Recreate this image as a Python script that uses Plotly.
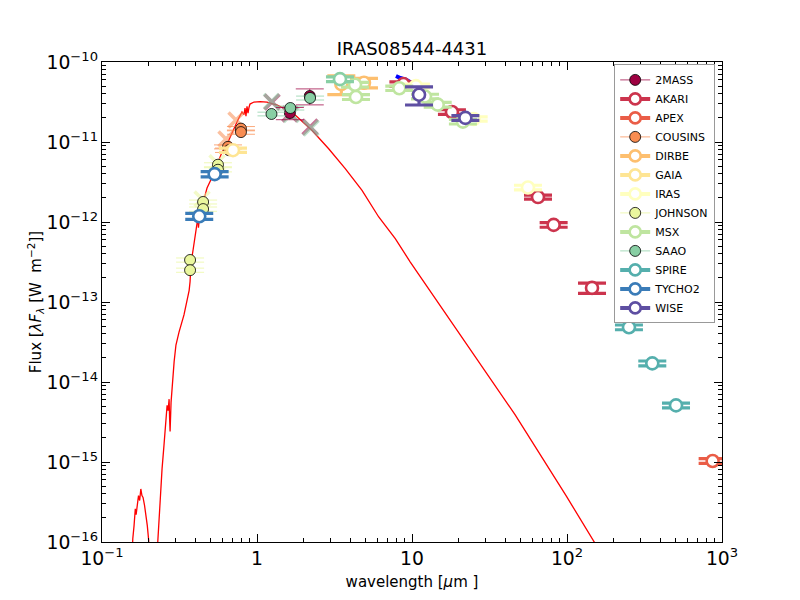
import plotly.graph_objects as go

# ---- model SED ----
model_wave = [0.155, 0.158, 0.161, 0.164, 0.166, 0.169, 0.172, 0.175, 0.178, 0.181,
              0.184, 0.188, 0.192, 0.196, 0.200, 0.203, 0.215, 0.225, 0.229, 0.233,
              0.238, 0.244, 0.251, 0.255, 0.259, 0.263, 0.267, 0.271, 0.273, 0.275,
              0.279, 0.287, 0.292, 0.300, 0.314, 0.338, 0.353, 0.365, 0.370, 0.375,
              0.387, 0.398, 0.410, 0.416, 0.419, 0.422, 0.429, 0.442, 0.476, 0.512,
              0.552, 0.595, 0.650, 0.711, 0.754, 0.800, 0.824, 0.837, 0.849, 0.862,
              0.875, 0.888, 0.901, 0.956, 1.046, 1.16, 1.35, 1.55, 1.77, 2.26,
              2.90, 3.71, 4.76, 6.10, 7.80, 9.75, 21.6, 46.2, 98.6, 149.0, 226.0]
model_flux = [4e-17, 1.1e-16, 1.6e-16, 2.6e-16, 2.2e-16, 3.2e-16, 3.8e-16, 3.3e-16, 4.6e-16, 3.8e-16,
              3.6e-16, 2.9e-16, 2.2e-16, 1.6e-16, 1.05e-16, 5e-17, 2e-17, 5e-17, 1.0e-16, 1.8e-16,
              4e-16, 8.2e-16, 1.6e-15, 2.2e-15, 3.4e-15, 5.1e-15, 4.4e-15, 6.1e-15, 3.5e-15, 2.4e-15,
              5.6e-15, 1.33e-14, 1.8e-14, 2.9e-14, 4.2e-14, 6.9e-14, 1.0e-13, 1.4e-13, 1.8e-13, 3.0e-13,
              4.5e-13, 6.5e-13, 9.4e-13, 1.15e-12, 8.5e-13, 1.05e-12, 1.33e-12, 1.55e-12, 2.66e-12, 3.6e-12,
              5.3e-12, 7.5e-12, 1.0e-11, 1.5e-11, 1.9e-11, 2.37e-11, 2.2e-11, 2.65e-11, 2.1e-11, 2.8e-11,
              2.3e-11, 2.7e-11, 2.98e-11, 3.16e-11, 3.2e-11, 3.16e-11, 2.9e-11, 2.55e-11, 2.16e-11, 1.40e-11,
              8.24e-12, 4.64e-12, 2.49e-12, 1.155e-12, 6.18e-13, 3.16e-13, 3.4e-14, 3.9e-15, 3.8e-16, 1.0e-16,
              2.7e-17]

# ---- mid-IR spectrum (blue) ----
spec_wave = [7.88, 8.12, 8.41, 8.71, 9.06, 9.53, 10.0, 10.5, 11.0, 11.6, 12.1]
spec_flux = [6.68e-11, 6.44e-11, 6.31e-11, 6.18e-11, 6.08e-11, 5.74e-11, 5.42e-11, 5.11e-11,
             4.87e-11, 4.73e-11, 4.56e-11]

# ---- photometry ----
twomass_wave = [1.63, 2.19]
twomass_flux = [2.3e-11, 3.76e-11]
twomass_err = [0.4e-11, 0.85e-11]
twomass_syn_wave = [1.25, 1.63, 2.2]
twomass_syn_flux = [3.16e-11, 2.24e-11, 1.54e-11]

akari_wave = [8.8, 18.1, 65.0, 82.0, 145.0]
akari_flux = [5.3e-11, 2.37e-11, 2.05e-12, 9.2e-13, 1.5e-13]
akari_err = [0.35e-11, 0.16e-11, 0.12e-12, 0.6e-13, 0.22e-13]

apex_wave = [870.0]
apex_flux = [1.03e-15]
apex_err = [0.07e-15]

cousins_wave = [0.65, 0.66, 0.788, 0.788]
cousins_flux = [8.7e-12, 7.9e-12, 1.47e-11, 1.33e-11]
cousins_err = [0.5e-12, 0.5e-12, 0.9e-12, 0.8e-12]
cousins_syn_wave = [0.631, 0.732]
cousins_syn_flux = [1.09e-11, 1.88e-11]

dirbe_wave = [3.5, 4.9]
dirbe_flux = [5.3e-11, 5.5e-11]
dirbe_err = [1.4e-11, 0.75e-11]

gaia_wave = [0.70]
gaia_flux = [7.9e-12]
gaia_err = [0.5e-12]

iras_wave = [10.6, 25.0, 56.0]
iras_flux = [5.0e-11, 1.94e-11, 2.7e-12]
iras_err = [0.3e-11, 0.12e-11, 0.18e-12]

johnson_wave = [0.37, 0.37, 0.449, 0.449, 0.56, 0.56]
johnson_flux = [3.35e-13, 2.5e-13, 1.78e-12, 1.45e-12, 5.2e-12, 4.5e-12]
johnson_err = [0.2e-13, 0.15e-13, 0.1e-12, 0.09e-12, 0.3e-12, 0.27e-12]
johnson_syn_wave = [0.442, 0.552]
johnson_syn_flux = [1.94e-12, 5.5e-12]

msx_wave = [4.29, 4.35, 8.28, 12.13, 14.65, 21.3]
msx_flux = [5.2e-11, 3.65e-11, 4.7e-11, 3.7e-11, 2.93e-11, 1.8e-11]
msx_err = [0.35e-11, 0.25e-11, 0.3e-11, 0.25e-11, 0.2e-11, 0.12e-11]

saao_wave = [1.24, 1.64, 2.2]
saao_flux = [2.24e-11, 2.66e-11, 3.55e-11]
saao_err = [0.12e-11, 0.15e-11, 0.2e-11]
saao_l_wave = [3.43]
saao_l_flux = [6.1e-11]
saao_l_err = [0.4e-11]
saao_syn_wave = [1.24, 1.66, 2.23]
saao_syn_flux = [3.2e-11, 2.2e-11, 1.5e-11]

spire_wave = [251.0, 355.0, 505.0]
spire_flux = [4.83e-14, 1.71e-14, 5.1e-15]
spire_err = [0.33e-14, 0.12e-14, 0.35e-15]

tycho_wave = [0.424, 0.533]
tycho_flux = [1.18e-12, 3.97e-12]
tycho_err = [0.1e-12, 0.3e-12]

wise_wave = [11.1, 22.1]
wise_flux = [3.9e-11, 2.0e-11]
wise_err = [1.0e-11, 0.14e-11]

# legend order / colours
systems = ["2MASS", "AKARI", "APEX", "COUSINS", "DIRBE", "GAIA", "IRAS",
           "JOHNSON", "MSX", "SAAO", "SPIRE", "TYCHO2", "WISE"]
colors = {
    "2MASS": "#9e0142", "AKARI": "#cc344d", "APEX": "#ea5d47", "COUSINS": "#f98d52",
    "DIRBE": "#fdbf6f", "GAIA": "#fee594", "IRAS": "#ffffbf", "JOHNSON": "#eaf79e",
    "MSX": "#bfe5a0", "SAAO": "#88cfa4", "SPIRE": "#55afad", "TYCHO2": "#3a7cb8",
    "WISE": "#5e4fa2",
}
filled = {"2MASS", "COUSINS", "JOHNSON", "SAAO"}


def rgba(hexcol, a):
    h = hexcol.lstrip("#")
    return "rgba(%d,%d,%d,%.2f)" % (int(h[0:2], 16), int(h[2:4], 16), int(h[4:6], 16), a)


fig = go.Figure()

# model + spectrum
fig.add_trace(go.Scatter(x=model_wave, y=model_flux, mode="lines",
                         line=dict(color="red", width=1.3), showlegend=False))
fig.add_trace(go.Scatter(x=spec_wave, y=spec_flux, mode="lines",
                         line=dict(color="blue", width=4), showlegend=False))


def add_syn(name, wave, flux):
    fig.add_trace(go.Scatter(
        x=wave, y=flux, mode="markers", showlegend=False, opacity=0.55,
        marker=dict(symbol="x-thin", size=15,
                    line=dict(color=colors[name], width=3.5)),
    ))


def add_open(name, wave, flux, err):
    c = colors[name]
    fig.add_trace(go.Scatter(
        x=wave, y=flux, mode="markers", showlegend=False,
        error_y=dict(type="data", array=err, color=c, thickness=3.2, width=14),
        marker=dict(symbol="circle", size=12, color="white",
                    line=dict(color=c, width=2.6)),
    ))


def add_filled(name, wave, flux, err):
    c = colors[name]
    fig.add_trace(go.Scatter(
        x=wave, y=flux, mode="markers", showlegend=False,
        error_y=dict(type="data", array=err, color=rgba(c, 0.75), thickness=1, width=14),
        marker=dict(symbol="circle", size=11, color=c,
                    line=dict(color="black", width=0.8)),
    ))


# synthetic (model) photometry shown as crosses
add_syn("2MASS", twomass_syn_wave, twomass_syn_flux)
add_syn("COUSINS", cousins_syn_wave, cousins_syn_flux)
add_syn("JOHNSON", johnson_syn_wave, johnson_syn_flux)
add_syn("SAAO", saao_syn_wave, saao_syn_flux)

# observed photometry
add_filled("2MASS", twomass_wave, twomass_flux, twomass_err)
add_open("AKARI", akari_wave, akari_flux, akari_err)
add_open("APEX", apex_wave, apex_flux, apex_err)
add_filled("COUSINS", cousins_wave, cousins_flux, cousins_err)
add_open("DIRBE", dirbe_wave, dirbe_flux, dirbe_err)
add_open("GAIA", gaia_wave, gaia_flux, gaia_err)
add_open("IRAS", iras_wave, iras_flux, iras_err)
add_filled("JOHNSON", johnson_wave, johnson_flux, johnson_err)
add_open("MSX", msx_wave, msx_flux, msx_err)
add_filled("SAAO", saao_wave, saao_flux, saao_err)
add_open("SAAO", saao_l_wave, saao_l_flux, saao_l_err)
add_open("SPIRE", spire_wave, spire_flux, spire_err)
add_open("TYCHO2", tycho_wave, tycho_flux, tycho_err)
add_open("WISE", wise_wave, wise_flux, wise_err)

# legend entries
for name in systems:
    c = colors[name]
    if name in filled:
        fig.add_trace(go.Scatter(
            x=[None], y=[None], mode="lines+markers", name=name,
            line=dict(color=rgba(c, 0.75), width=1),
            marker=dict(size=11, color=c, line=dict(color="black", width=0.8)),
        ))
    else:
        fig.add_trace(go.Scatter(
            x=[None], y=[None], mode="lines+markers", name=name,
            line=dict(color=c, width=4),
            marker=dict(size=11, color="white", line=dict(color=c, width=2.6)),
        ))

axis_common = dict(
    type="log", dtick=1, exponentformat="power", showgrid=False, zeroline=False,
    showline=True, linecolor="black", linewidth=1, mirror="allticks",
    ticks="inside", ticklen=8, tickwidth=1, tickcolor="black",
    minor=dict(ticks="inside", ticklen=4, tickcolor="black", showgrid=False),
    tickfont=dict(size=15, family="DejaVu Sans", color="black"),
)

fig.update_layout(
    width=800, height=600,
    paper_bgcolor="white", plot_bgcolor="white",
    margin=dict(l=94, r=86, t=54, b=66),
    font=dict(family="DejaVu Sans", color="black"),
    title=dict(text="IRAS08544-4431", x=0.5, xref="paper", xanchor="center",
               y=0.932, yref="container", yanchor="middle",
               font=dict(size=18, family="DejaVu Sans", color="black")),
    xaxis=dict(axis_common, range=[-1, 3],
               title=dict(text="wavelength [<i>μ</i>m ]", standoff=8,
                          font=dict(size=15, family="DejaVu Sans"))),
    yaxis=dict(axis_common, range=[-16, -10],
               title=dict(text="Flux [<i>λF</i><sub><i>λ</i></sub> [W  m<sup>−2</sup>]]",
                          standoff=0, font=dict(size=15, family="DejaVu Sans"))),
    legend=dict(x=0.989, y=0.995, xanchor="right", yanchor="top",
                bgcolor="white", bordercolor="#999999", borderwidth=1,
                font=dict(size=11, family="DejaVu Sans"), tracegroupgap=0,
                itemwidth=30),
    showlegend=True,
)

fig.write_html("out.html")
